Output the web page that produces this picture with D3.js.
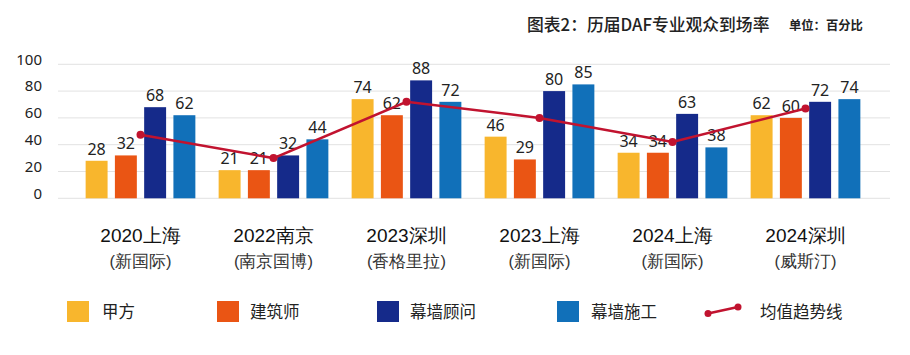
<!DOCTYPE html>
<html>
<head>
<meta charset="utf-8">
<script src="https://cdn.jsdelivr.net/npm/d3@7/dist/d3.min.js"></script>
<style>
  html, body { margin: 0; padding: 0; background: #fff; }
  svg { display: block; font-family: "Noto Sans CJK SC", "Noto Sans", sans-serif; }
</style>
</head>
<body>
<svg id="chart" width="910" height="355"></svg>
<script>
// ---- data ----
const categories = ["2020上海", "2022南京", "2023深圳", "2023上海", "2024上海", "2024深圳"];
const venues = ["(新国际)", "(南京国博)", "(香格里拉)", "(新国际)", "(新国际)", "(威斯汀)"];
const seriesNames = ["甲方", "建筑师", "幕墙顾问", "幕墙施工"];
const jiafang    = [28, 21, 74, 46, 34, 62];
const jianzhushi = [32, 21, 62, 29, 34, 60];
const guwen      = [68, 32, 88, 80, 63, 72];
const shigong    = [62, 44, 72, 85, 38, 74];
const trend      = [47.5, 30, 72, 60, 42, 67];
const trendName  = "均值趋势线";
const yTicks     = [0, 20, 40, 60, 80, 100];
const title      = "图表2：历届DAF专业观众到场率";
const unit       = "单位：百分比";

const seriesValues = [jiafang, jianzhushi, guwen, shigong];
const colors = ["#F8B62D", "#EA5514", "#152A8A", "#1170B9"];
const trendColor = "#C1132F";

const svg = d3.select("#chart");

// scales
const x = d3.scaleBand().domain(categories).range([74, 872]).paddingInner(0.175).paddingOuter(0.0875);
const xi = d3.scaleBand().domain(d3.range(4)).range([0, x.bandwidth()]).paddingInner(0.25).paddingOuter(0);
const y = d3.scaleLinear().domain([0, 100]).range([198.3, 64.3]);

// grid
svg.append("g").selectAll("line").data(yTicks).join("line")
  .attr("x1", 58).attr("x2", 890)
  .attr("y1", d => y(d)).attr("y2", d => y(d))
  .attr("stroke", "#e2e2e2").attr("stroke-width", 1);

// y axis labels
const yAxis = d3.axisLeft(y).tickValues(yTicks).tickSize(0).tickPadding(0);
const yg = svg.append("g").attr("transform", "translate(42,0)").call(yAxis);
yg.select(".domain").remove();
yg.selectAll("text").attr("font-size", 15).attr("fill", "#222").attr("dy", "-0.02em")
  .attr("font-family", "'Noto Sans', sans-serif");

// bars
const groups = svg.append("g").selectAll("g").data(categories).join("g")
  .attr("transform", d => `translate(${x(d)},0)`);

groups.each(function(cat, ci) {
  const g = d3.select(this);
  seriesValues.forEach((vals, si) => {
    const v = vals[ci];
    g.append("rect")
      .attr("x", xi(si)).attr("width", xi.bandwidth())
      .attr("y", y(v)).attr("height", y(0) - y(v))
      .attr("fill", colors[si]);
    g.append("text")
      .attr("x", xi(si) + xi.bandwidth() / 2)
      .attr("y", y(v) - 6)
      .attr("text-anchor", "middle")
      .attr("font-size", 16)
      .attr("fill", "#222")
      .attr("font-family", "'Noto Sans', sans-serif")
      .text(v);
  });
});

// trend line
const line = d3.line().x((d, i) => x(categories[i]) + x.bandwidth() / 2).y(d => y(d));
svg.append("path").datum(trend).attr("d", line)
  .attr("fill", "none").attr("stroke", trendColor).attr("stroke-width", 2.5);
svg.append("g").selectAll("circle").data(trend).join("circle")
  .attr("cx", (d, i) => x(categories[i]) + x.bandwidth() / 2)
  .attr("cy", d => y(d)).attr("r", 4).attr("fill", trendColor);

// category labels
const xAxis = d3.axisBottom(x).tickSize(0).tickPadding(0);
const xg = svg.append("g").attr("transform", "translate(0,0)").call(xAxis);
xg.select(".domain").remove();
xg.selectAll("text").remove();
xg.selectAll(".tick").each(function(d, i) {
  const t = d3.select(this);
  t.append("text").attr("y", 241.5).attr("text-anchor", "middle")
    .attr("font-size", 19).attr("fill", "#111").attr("font-weight", 500).text(categories[i]);
  t.append("text").attr("y", 266.5).attr("text-anchor", "middle")
    .attr("font-size", 16.5).attr("fill", "#333").text(venues[i]);
});

// title
svg.append("text").attr("x", 527).attr("y", 30.5).attr("font-size", 16.8)
  .attr("fill", "#222").attr("font-weight", 500).text(title);
svg.append("text").attr("x", 789).attr("y", 29.5).attr("font-size", 12.3)
  .attr("fill", "#222").attr("font-weight", 700).text(unit);

// legend
const legendX = [67, 217, 377, 557];
const legendTextX = [102, 250, 410, 591];
seriesNames.forEach((n, i) => {
  svg.append("rect").attr("x", legendX[i]).attr("y", 301).attr("width", 22).attr("height", 21)
    .attr("fill", colors[i]);
  svg.append("text").attr("x", legendTextX[i]).attr("y", 317.5).attr("font-size", 16.5)
    .attr("fill", "#222").text(n);
});
svg.append("line").attr("x1", 708).attr("y1", 313.5).attr("x2", 738).attr("y2", 307)
  .attr("stroke", trendColor).attr("stroke-width", 2.5);
svg.append("circle").attr("cx", 708).attr("cy", 313.5).attr("r", 3.5).attr("fill", trendColor);
svg.append("circle").attr("cx", 738).attr("cy", 307).attr("r", 3.5).attr("fill", trendColor);
svg.append("text").attr("x", 760).attr("y", 317.5).attr("font-size", 16.5)
  .attr("fill", "#222").text(trendName);
</script>
</body>
</html>
